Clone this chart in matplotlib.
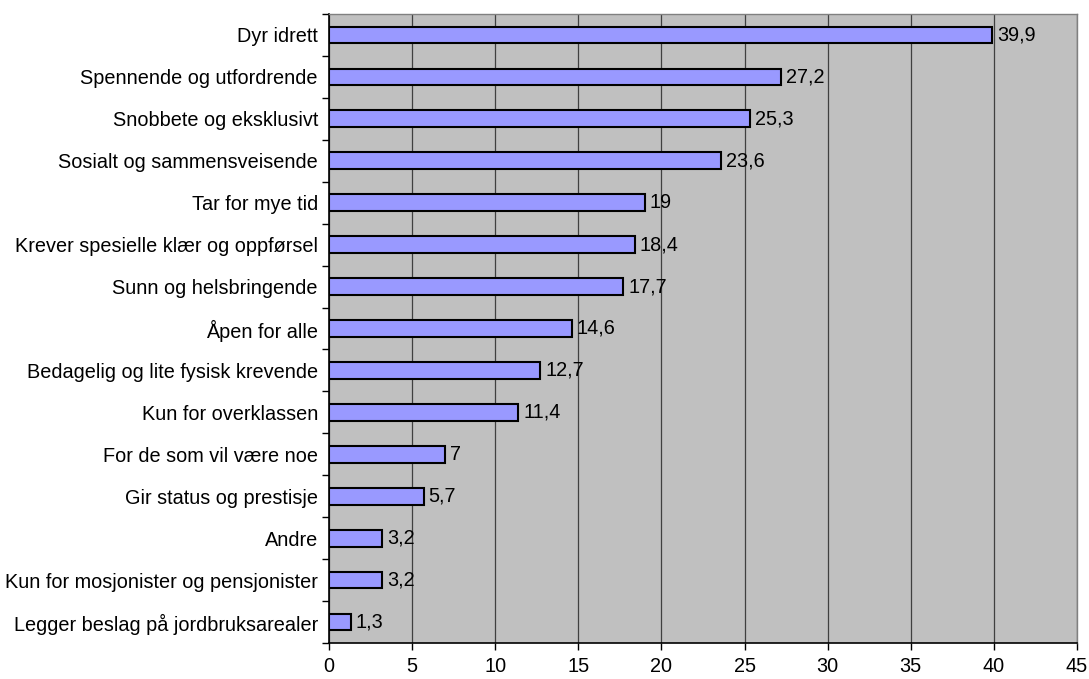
import matplotlib
matplotlib.use("Agg")
from matplotlib import pyplot as plt
import numpy as np

categories = ["Dyr idrett", "Spennende og utfordrende", "Snobbete og eksklusivt",
              "Sosialt og sammensveisende", "Tar for mye tid",
              "Krever spesielle klær og oppførsel", "Sunn og helsbringende",
              "Åpen for alle", "Bedagelig og lite fysisk krevende",
              "Kun for overklassen", "For de som vil være noe",
              "Gir status og prestisje", "Andre",
              "Kun for mosjonister og pensjonister",
              "Legger beslag på jordbruksarealer"]
values = [39.9, 27.2, 25.3, 23.6, 19, 18.4, 17.7, 14.6, 12.7, 11.4, 7, 5.7, 3.2, 3.2, 1.3]
labels = ["39,9", "27,2", "25,3", "23,6", "19", "18,4", "17,7", "14,6", "12,7",
          "11,4", "7", "5,7", "3,2", "3,2", "1,3"]

plt.rcParams['font.family'] = ['Liberation Sans', 'DejaVu Sans']
fs = 14.3

fig = plt.figure(figsize=(10.89, 6.79), dpi=100)
ax = fig.add_axes([329/1089, 1-643/679, (1077-329)/1089, (643-14)/679])
ax.set_facecolor("#C0C0C0")

n = len(categories)
y = np.arange(n)[::-1]
ax.barh(y, values, height=0.4, color="#9999FF", edgecolor="black", linewidth=1.5, zorder=3)
for yi, v, lab in zip(y, values, labels):
    ax.text(v + 0.3, yi, lab, va="center", ha="left", fontsize=fs, zorder=4)

ax.set_xlim(0, 45)
ax.set_ylim(-0.5, n - 0.5)
ax.set_xticks(np.arange(0, 46, 5))
ax.xaxis.grid(True, color="#404040", linewidth=0.9, zorder=1)
ax.set_yticks(y)
ax.set_yticklabels(categories, fontsize=fs)
ax.set_yticks(np.arange(-0.5, n, 1), minor=True)
ax.tick_params(axis="y", which="major", length=0, pad=8)
ax.tick_params(axis="y", which="minor", length=5, width=1, direction="out")
ax.tick_params(axis="x", length=5, width=1, labelsize=fs, pad=5)

for s in ["top", "right"]:
    ax.spines[s].set_color("#808080")
    ax.spines[s].set_linewidth(1)
for s in ["left", "bottom"]:
    ax.spines[s].set_color("black")
    ax.spines[s].set_linewidth(1.2)

fig.savefig("out.png", dpi=100)
